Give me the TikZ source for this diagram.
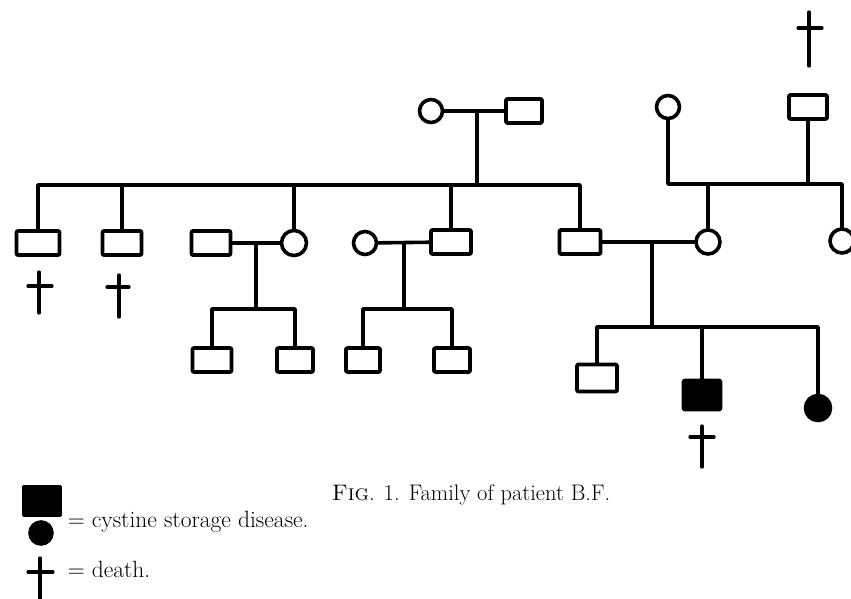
\documentclass[tikz,border=0pt]{standalone}
\begin{document}
\begin{tikzpicture}[x=1pt,y=-1pt,line width=3.6pt,line cap=round,line join=round,
  sq/.style={draw,rectangle,rounded corners=1pt,minimum width=39pt,minimum height=24pt,inner sep=0pt},
  ci/.style={draw,circle,minimum size=23pt,inner sep=0pt},
  aff/.style={fill=black},
  dc/.style={line width=3.2pt},
  lbl/.style={anchor=base west,inner sep=0pt,font=\fontsize{23}{26}\selectfont}]
\useasboundingbox (0,0) rectangle (851,598);
\clip (0,0) rectangle (851,598);
% paternal grandparents
\node[ci] (gpF) at (431,111) {};
\node[sq,minimum width=36pt] (gpM) at (524,111) {};
\draw (gpF) -- (gpM);
\coordinate (gpJ) at (477,111);
\coordinate (gpS) at (477,185);
\draw (gpJ) -- (gpS);
% generation II
\node[sq,minimum width=43pt] (s1) at (38,243) {};
\node[sq] (s2) at (122,243) {};
\node[sq] (s3) at (211,243) {};
\node[ci,minimum size=25pt] (c4) at (294,243) {};
\node[ci] (c5) at (365,243) {};
\node[sq,minimum width=40pt] (s6) at (451,242) {};
\node[sq,minimum width=41pt] (s7) at (580,242) {};
\node[ci,minimum size=24pt] (c8) at (708,242) {};
\draw (s1.north) |- (gpS) -| (s7.north);
\draw (s2.north) -- (s2.north |- gpS);
\draw (c4.north) -- (c4.north |- gpS);
\draw (s6.north) -- (s6.north |- gpS);
% maternal grandparents
\node[ci] (mgF) at (668,107) {};
\node[sq,minimum width=38pt] (mgM) at (808,107) {};
\node[ci,minimum size=24pt] (c9) at (842,241) {};
\coordinate (mgS) at (709,184);
\draw (mgF.south) |- (mgS) -| (c9.north);
\draw (mgM.south) -- (mgM.south |- mgS);
\draw (c8.north) -- (c8.north |- mgS);
% family of s3 + c4
\draw (s3) -- (c4);
\coordinate (J34) at (256,243);
\coordinate (S34) at (256,309);
\node[sq] (g1) at (212,360) {};
\node[sq,minimum width=36pt] (g2) at (295,360) {};
\draw (J34) -- (S34);
\draw (g1.north) |- (S34) -| (g2.north);
% family of c5 + s6
\draw (c5) -- (s6);
\coordinate (J56) at (404,243);
\coordinate (S56) at (404,309);
\node[sq,minimum width=34pt] (g3) at (363,360) {};
\node[sq,minimum width=36pt] (g4) at (452,360) {};
\draw (J56) -- (S56);
\draw (g3.north) |- (S56) -| (g4.north);
% family of s7 + c8
\draw (s7) -- (c8);
\coordinate (J78) at (652,242);
\coordinate (S78) at (652,327);
\node[sq,minimum width=40pt,minimum height=27pt] (h1) at (597,378) {};
\node[sq,aff,minimum width=37pt,minimum height=29pt] (h2) at (702,395) {};
\node[ci,aff,minimum size=25pt] (h3) at (818,408) {};
\draw (J78) -- (S78);
\draw (h1.north) |- (S78) -| (h3.north);
\draw (h2.north) -- (h2.north |- S78);
% death crosses
\draw[dc] (39,272) -- (39,313) (28,286) -- (52,286);
\draw[dc] (119,275) -- (119,317) (107,287) -- (129,287);
\draw[dc] (809,12) -- (809,66) (798,28) -- (822,28);
\draw[dc] (702,426) -- (702,467) (690,437) -- (714,437);
% legend
\node[sq,aff,rounded corners=0pt,minimum width=37pt,minimum height=29pt] (lsq) at (42,501) {};
\node[ci,aff,minimum size=22pt] (lci) at (41,533) {};
\draw[dc] (40,558) -- (40,600) (28,572) -- (53,572);
\node[lbl,font=\fontsize{23.5}{26}\selectfont] (t1) at (66,527) {= cystine storage disease.};
\node[lbl,font=\fontsize{23.5}{26}\selectfont] (t2) at (66,577) {= death.};
\node[lbl,font=\fontsize{22.5}{26}\selectfont] (cap) at (330,500) {\textsc{Fig}. 1. Family of patient B.F.};
\end{tikzpicture}
\end{document}
